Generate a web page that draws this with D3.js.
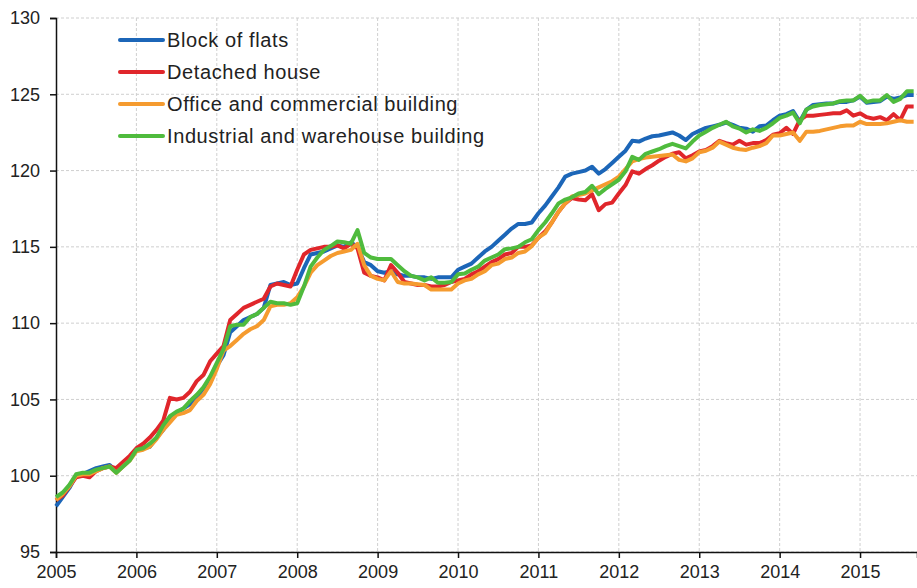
<!doctype html>

<html>

<head>
  <meta charset="utf-8">
  <script src="https://d3js.org/d3.v7.min.js"></script>
  <style>
    body { margin: 0; background: #fff; }
    text { font-family: Arial, "Liberation Sans", sans-serif; fill: #222; }
  </style>
</head>

<body>

  <script>
    // data: monthly index, Jan 2005 .. Sep 2015
    var startYear = 2005;
    var yearTicks = [2005, 2006, 2007, 2008, 2009, 2010, 2011, 2012, 2013, 2014, 2015];
    var valueTicks = [95, 100, 105, 110, 115, 120, 125, 130];
    var seriesNames = ["Block of flats", "Detached house", "Office and commercial building", "Industrial and warehouse building"];
    var seriesColors = ["#1c66b8", "#e0262b", "#f59b2f", "#4fbb3d"];

    var blockOfFlats = [
      98.0, 98.6, 99.2, 100.0, 100.1, 100.3, 100.5, 100.6, 100.7, 100.3, 100.7, 101.1,
      101.7, 101.8, 101.9, 102.5, 103.0, 103.7, 104.1, 104.4, 104.7, 105.2, 105.7, 106.3,
      107.2, 107.9, 109.4, 109.8, 110.2, 110.4, 110.6, 111.0, 112.5, 112.6, 112.7, 112.5,
      112.6, 113.6, 114.5, 114.6, 114.7, 114.9, 115.1, 115.0, 115.3, 115.0, 114.0, 113.8,
      113.4, 113.3, 113.4, 113.2, 113.1, 113.1, 113.0, 113.0, 112.9, 113.0, 113.0, 113.0,
      113.5, 113.7, 113.9, 114.3, 114.7, 115.0, 115.4, 115.8, 116.2, 116.5, 116.5, 116.6,
      117.2, 117.7, 118.3, 118.9, 119.6, 119.8, 119.9, 120.0, 120.25, 119.8, 120.1, 120.5,
      120.9, 121.3, 121.95, 121.9, 122.1, 122.25, 122.3, 122.4, 122.5, 122.3, 122.0, 122.4,
      122.6, 122.8, 122.9, 123.0, 123.15, 123.0, 122.8, 122.75, 122.55, 122.9, 122.95, 123.3,
      123.6, 123.7, 123.9, 123.2, 124.0, 124.3, 124.35, 124.4, 124.4, 124.5, 124.5, 124.6,
      124.85, 124.45, 124.5, 124.55, 124.85, 124.7, 124.8, 124.95, 124.95
    ];
    var detachedHouse = [
      98.4, 98.7, 99.3, 99.9, 100.0, 99.9, 100.3, 100.5, 100.6, 100.5, 100.9, 101.3,
      101.8, 102.1, 102.5, 103.0, 103.6, 105.1, 105.0, 105.1, 105.5, 106.2, 106.6, 107.5,
      108.0, 108.5, 110.2, 110.6, 111.0, 111.2, 111.4, 111.6, 112.4, 112.6, 112.5, 112.4,
      113.5, 114.5, 114.8, 114.9, 115.0, 115.0, 115.1, 114.9, 115.2, 114.9, 113.3, 113.1,
      113.0, 112.8, 113.8, 113.3, 112.7, 112.6, 112.5, 112.5, 112.4, 112.4, 112.5, 112.7,
      112.8, 112.9, 113.2, 113.4, 113.7, 114.0, 114.2, 114.5, 114.6, 115.0, 115.0, 115.1,
      115.6, 116.0, 116.6, 117.3, 117.85, 118.2, 118.1, 118.05, 118.45, 117.4, 117.8, 117.9,
      118.5, 119.05, 119.95, 119.8, 120.1, 120.35, 120.65, 120.9, 121.1, 121.2, 120.8, 121.0,
      121.25, 121.35, 121.6, 121.95, 121.8, 121.7, 121.95, 121.7, 121.8, 121.8, 122.0, 122.35,
      122.45, 122.8, 122.4, 123.3, 123.6, 123.6, 123.65, 123.7, 123.75, 123.75, 123.95, 123.6,
      123.75, 123.5, 123.4, 123.5, 123.3, 123.7, 123.3, 124.2, 124.2
    ];
    var officeCommercial = [
      98.4, 98.8, 99.3, 100.0, 100.1, 100.1, 100.3, 100.5, 100.6, 100.2, 100.6, 101.0,
      101.6, 101.7, 101.9, 102.4, 103.0, 103.5, 104.0, 104.1, 104.3, 104.9, 105.3, 106.0,
      107.0, 108.2, 108.5, 108.9, 109.3, 109.6, 109.8, 110.2, 111.1, 111.2, 111.2, 111.3,
      111.7, 112.4, 113.3, 113.8, 114.1, 114.4, 114.6, 114.7, 114.8, 115.2, 113.8, 113.1,
      112.9, 112.8, 113.4, 112.7, 112.6, 112.6, 112.55, 112.5, 112.2, 112.2, 112.2, 112.2,
      112.6, 112.8, 112.9, 113.2, 113.4, 113.8, 113.9, 114.2, 114.3, 114.6, 114.7, 115.05,
      115.6, 115.9, 116.6, 117.3, 117.85, 118.3, 118.4, 118.5, 118.7, 118.9, 119.1, 119.3,
      119.6, 120.1, 120.6, 120.75, 120.85, 120.9, 120.95, 121.0, 121.05, 120.7, 120.6, 120.8,
      121.2, 121.3, 121.5, 121.9, 121.7, 121.5, 121.4, 121.35, 121.5, 121.6, 121.8, 122.3,
      122.3, 122.4, 122.5, 121.95, 122.55, 122.55, 122.6, 122.7, 122.8, 122.9, 122.95, 122.95,
      123.2, 123.05, 123.05, 123.05, 123.1, 123.2, 123.3, 123.2, 123.2
    ];
    var industrialWarehouse = [
      98.6, 98.9, 99.4, 100.1, 100.2, 100.2, 100.4, 100.5, 100.6, 100.2, 100.6, 101.0,
      101.7, 101.8, 102.1, 102.5, 103.3, 103.9, 104.2, 104.4, 104.9, 105.3, 105.8, 106.5,
      107.4, 108.3, 109.8, 109.9, 109.9, 110.4, 110.6, 111.0, 111.4, 111.3, 111.3, 111.2,
      111.3, 112.4, 113.7, 114.3, 114.8, 115.05, 115.35, 115.3, 115.2, 116.1, 114.6, 114.3,
      114.2, 114.2, 114.2, 113.8, 113.4, 113.1, 113.0, 112.8, 113.0, 112.65, 112.65, 112.7,
      113.2, 113.25, 113.5, 113.7, 114.1, 114.3, 114.5, 114.85, 114.9, 115.0, 115.3, 115.5,
      116.1, 116.6, 117.2, 117.85, 118.1, 118.25, 118.5, 118.6, 119.0, 118.45, 118.8, 119.1,
      119.4, 119.95, 120.9, 120.7, 121.1, 121.25, 121.4, 121.6, 121.75, 121.6, 121.45, 121.9,
      122.3, 122.55, 122.8, 123.0, 123.2, 122.9, 122.75, 122.5, 122.7, 122.6, 122.8, 123.1,
      123.45, 123.6, 123.8, 123.1, 124.0, 124.2, 124.3, 124.35, 124.4, 124.55, 124.6, 124.6,
      124.9, 124.5, 124.6, 124.6, 124.95, 124.5, 124.7, 125.2, 125.2
    ];
    var allSeries = [blockOfFlats, detachedHouse, officeCommercial, industrialWarehouse];

    // canvas size and plot edges
    var width = 917;
    var height = 588;
    var plotLeft = 56, plotRight = 917, plotTop = 18, plotBottom = 552;

    // x in months since Jan 2005, y the index value
    var x = d3.scaleLinear().domain([0, 128.5]).range([plotLeft, plotRight]);
    var y = d3.scaleLinear().domain([95, 130]).range([plotBottom, plotTop]);

    var svg = d3.select("body")
                .append("svg")
                .attr("width", width)
                .attr("height", height);

    // dashed grid
    svg.append("g")
       .selectAll("line")
       .data(valueTicks)
       .enter()
         .append("line")
         .attr("x1", plotLeft).attr("x2", plotRight)
         .attr("y1", function(d) { return y(d); })
         .attr("y2", function(d) { return y(d); })
         .attr("stroke", "#cfcfcf")
         .attr("stroke-dasharray", "3,2");

    svg.append("g")
       .selectAll("line")
       .data(yearTicks.slice(1))
       .enter()
         .append("line")
         .attr("x1", function(d) { return x((d - startYear) * 12); })
         .attr("x2", function(d) { return x((d - startYear) * 12); })
         .attr("y1", plotTop).attr("y2", plotBottom)
         .attr("stroke", "#cfcfcf")
         .attr("stroke-dasharray", "3,2");

    // axes
    var yAxis = d3.axisLeft(y)
                  .tickValues(valueTicks)
                  .tickSize(6)
                  .tickPadding(10);
    var xAxis = d3.axisBottom(x)
                  .tickValues(yearTicks.map(function(d) { return (d - startYear) * 12; }))
                  .tickFormat(function(d) { return startYear + d / 12; })
                  .tickSize(6)
                  .tickPadding(7);

    var gy = svg.append("g")
                .attr("transform", "translate(" + plotLeft + ",0)")
                .call(yAxis);
    var gx = svg.append("g")
                .attr("transform", "translate(0," + plotBottom + ")")
                .call(xAxis);

    [gx, gy].forEach(function(g) {
      g.select(".domain").attr("stroke", "#111").attr("stroke-width", 1.5);
      g.selectAll(".tick line").attr("stroke", "#111").attr("stroke-width", 1.5);
      g.selectAll("text")
       .attr("font-size", 18)
       .attr("font-family", "Arial, 'Liberation Sans', sans-serif")
       .attr("fill", "#222");
    });

    // the four lines
    var line = d3.line()
                 .x(function(d, i) { return x(i); })
                 .y(function(d) { return y(d); });

    svg.append("g")
       .selectAll("path")
       .data(allSeries)
       .enter()
         .append("path")
         .attr("d", line)
         .attr("fill", "none")
         .attr("stroke", function(d, i) { return seriesColors[i]; })
         .attr("stroke-width", 4)
         .attr("stroke-linejoin", "round");

    // legend top left
    var legend = svg.append("g")
                    .selectAll("g")
                    .data(seriesNames)
                    .enter()
                      .append("g")
                      .attr("transform", function(d, i) { return "translate(120," + (40 + i * 32) + ")"; });

    legend.append("line")
          .attr("x1", 0).attr("x2", 43)
          .attr("stroke", function(d, i) { return seriesColors[i]; })
          .attr("stroke-width", 4)
          .attr("stroke-linecap", "round");

    legend.append("text")
          .attr("x", 47)
          .attr("dy", "0.36em")
          .attr("font-size", 20)
          .attr("letter-spacing", "0.6px")
          .text(function(d) { return d; });

  </script>

</body>
</html>
